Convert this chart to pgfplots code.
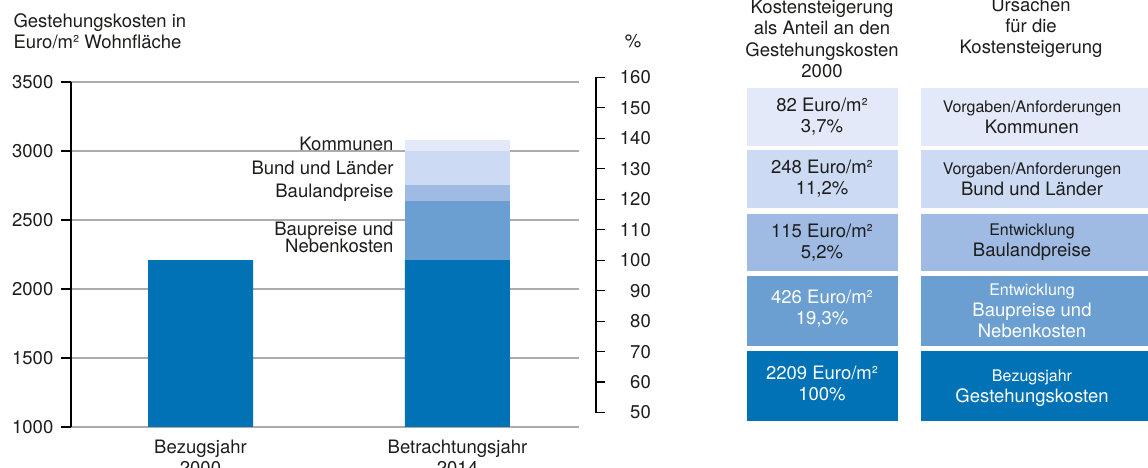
\documentclass[border=0pt]{standalone}
\usepackage{fontspec}
\setmainfont{TeX Gyre Heros}
\usepackage{pgfplots}
\pgfplotsset{compat=1.18}
\definecolor{cA}{RGB}{0,114,181}
\definecolor{cB}{RGB}{107,159,209}
\definecolor{cC}{RGB}{160,187,227}
\definecolor{cD}{RGB}{204,219,243}
\definecolor{cE}{RGB}{227,233,248}
\definecolor{textc}{RGB}{29,29,27}
\definecolor{gridc}{RGB}{172,172,172}
\newcommand{\bigf}{\fontsize{18.5}{21}\selectfont}
\newcommand{\smallf}{\fontsize{16}{20}\selectfont}
\begin{document}
\begin{tikzpicture}[x=1pt,y=1pt,font=\bigf,text=textc]
\path[use as bounding box] (0,0) rectangle (1148,468);

\begin{axis}[
  at={(71pt,41pt)}, anchor=south west, scale only axis,
  width=508pt, height=345pt,
  xmin=-0.5039, xmax=1.4728, ymin=1000, ymax=3500,
  ybar stacked, bar width=105pt,
  axis x line*=bottom, x axis line style={draw=none},
  axis y line*=left, y axis line style={black, line width=1.2pt},
  xtick={0,1},
  xticklabels={{Bezugsjahr\\2000},{Betrachtungsjahr\\2014}},
  xticklabel style={align=center, font=\bigf, text=textc, anchor=north, inner sep=0pt, yshift=-3pt},
  x tick style={draw=none},
  ytick={1000,1500,...,3500},
  y tick style={black, line width=1.2pt},
  tick align=outside, major tick length=9.5pt,
  yticklabel style={font=\bigf, text=textc, anchor=east, inner sep=0pt, xshift=-8pt},
  /pgf/number format/1000 sep={},
  /pgf/number format/assume math mode=true,
  ymajorgrids, grid style={draw=gridc, line width=1.1pt},
]
\addplot[fill=cA, draw=none] coordinates {(0,2209) (1,2209)};
\addplot[fill=cB, draw=none] coordinates {(0,0) (1,426)};
\addplot[fill=cC, draw=none] coordinates {(0,0) (1,115)};
\addplot[fill=cD, draw=none] coordinates {(0,0) (1,248)};
\addplot[fill=cE, draw=none] coordinates {(0,0) (1,82)};
\end{axis}

\begin{axis}[
  at={(71pt,55.42pt)}, anchor=south west, scale only axis,
  width=525pt, height=335.3pt,
  xmin=0, xmax=1, ymin=50, ymax=160,
  axis x line=none,
  axis y line*=right, y axis line style={black, line width=1.2pt},
  ytick={50,60,...,160},
  y tick style={black, line width=1.2pt},
  tick align=outside, major tick length=9pt,
  yticklabel style={font=\bigf, text=textc, anchor=east, inner sep=0pt, xshift=46pt},
  /pgf/number format/assume math mode=true,
]
\end{axis}

% axis titles and annotations
\node[anchor=base west] at (10,440) {Gestehungskosten in};
\node[anchor=base west] at (10,419) {Euro/m² Wohnfläche};
\node[anchor=base] at (633,420) {\%};

\node[anchor=base east] at (397,317) {Kommunen};
\node[anchor=base east] at (397,293) {Bund und Länder};
\node[anchor=base east] at (397,270) {Baulandpreise};
\node[anchor=base east] at (397,232) {Baupreise und};
\node[anchor=base east] at (397,215) {Nebenkosten};

% table headers
\node[anchor=base] at (822,454.5) {Kostensteigerung};
\node[anchor=base] at (822,433) {als Anteil an den};
\node[anchor=base] at (822,411.5) {Gestehungskosten};
\node[anchor=base] at (822,390) {2000};
\node[anchor=base] at (1031,456) {Ursachen};
\node[anchor=base] at (1031,435) {für die};
\node[anchor=base] at (1031,414) {Kostensteigerung};

% table cells
\fill[cE] (746.5,322) rectangle (898,380);
\fill[cD] (746.5,260) rectangle (898,318);
\fill[cC] (746.5,197) rectangle (898,254);
\fill[cB] (746.5,122) rectangle (898,192);
\fill[cA] (746.5,47) rectangle (898,117);
\fill[cE] (921,322) rectangle (1160,380);
\fill[cD] (921,260) rectangle (1160,318);
\fill[cC] (921,197) rectangle (1160,254);
\fill[cB] (921,122) rectangle (1160,192);
\fill[cA] (921,47) rectangle (1160,117);

\node[align=center] at (822,351) {82 Euro/m²\\3,7\%};
\node[align=center] at (822,289) {248 Euro/m²\\11,2\%};
\node[align=center] at (822,225.5) {115 Euro/m²\\5,2\%};
\node[align=center, text=white] at (822,159) {426 Euro/m²\\19,3\%};
\node[align=center, text=white] at (822,84.5) {2209 Euro/m²\\100\%};

\node[align=center] at (1032,351) {{\smallf Vorgaben/Anforderungen}\\Kommunen};
\node[align=center] at (1032,289) {{\smallf Vorgaben/Anforderungen}\\Bund und Länder};
\node[align=center] at (1032,225.5) {{\smallf Entwicklung}\\Baulandpreise};
\node[align=center, text=white] at (1032,157) {{\smallf Entwicklung}\\Baupreise und\\Nebenkosten};
\node[align=center, text=white] at (1032,80) {{\smallf Bezugsjahr}\\Gestehungskosten};
\end{tikzpicture}
\end{document}
